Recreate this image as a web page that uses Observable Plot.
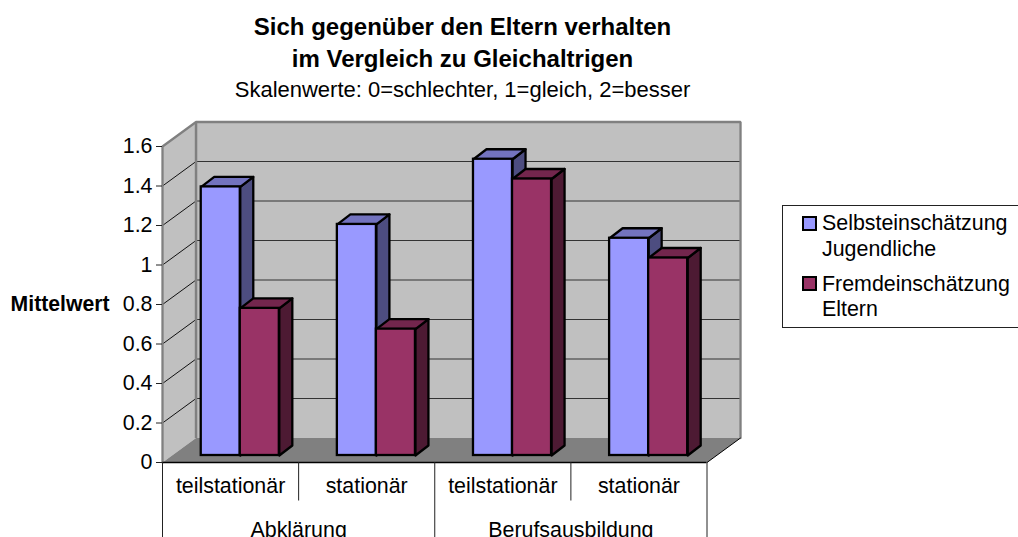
<!DOCTYPE html>
<html lang="de">
<head>
<meta charset="utf-8">
<script src="https://cdn.jsdelivr.net/npm/d3@7"></script>
<script src="https://cdn.jsdelivr.net/npm/@observablehq/plot@0.6"></script>
<style>
html,body{margin:0;padding:0;background:#fff;}
#page{position:relative;width:1018px;height:537px;overflow:hidden;font-family:"Liberation Sans",Arial,sans-serif;color:#000;}
#head{position:relative;height:100px;width:925px;text-align:center;}
#head div{position:absolute;left:0;width:100%;transform:translateY(-50%);white-space:nowrap;}
#head .t{font-weight:bold;font-size:24px;}
#head .s{font-size:22px;}
#legend{position:absolute;left:782px;top:205px;width:300px;height:123px;border:1px solid #222;box-sizing:border-box;background:#fff;}
#legend .sw{position:absolute;left:19px;width:15px;height:15px;box-sizing:border-box;border:2px solid #000;}
#legend .l{position:absolute;left:39px;font-size:21.4px;line-height:26px;white-space:nowrap;}
svg{display:block;}
</style>
</head>
<body>
<div id="page">
<div id="head"></div>
<div id="chart"></div>
<div id="legend"></div>
</div>
<script>
const titleLines = ["Sich gegenüber den Eltern verhalten", "im Vergleich zu Gleichaltrigen"];
const subtitle = "Skalenwerte: 0=schlechter, 1=gleich, 2=besser";
const yAxisLabel = "Mittelwert";
const yTicks = [0, 0.2, 0.4, 0.6, 0.8, 1, 1.2, 1.4, 1.6];
const categories = ["teilstationär", "stationär", "teilstationär", "stationär"];
const groups = ["Abklärung", "Berufsausbildung"];
const selbst = [1.36, 1.17, 1.50, 1.10];
const fremd = [0.745, 0.64, 1.40, 1.00];
const seriesNames = [["Selbsteinschätzung", "Jugendliche"], ["Fremdeinschätzung", "Eltern"]];

const palette = [
  {front: "#9999ff", top: "#7373bf", side: "#4d4d80"},
  {front: "#993366", top: "#73264d", side: "#4d1a33"}
];
const wall = "#c0c0c0", floorColor = "#808080", edge = "#808080";

// depth of the box and of each bar, in data units
const wdx = 33.5 / 136, wdy = 24.5 / 197.5;
const bdx = 13 / 136, bdy = 10 / 197.5;
const barW = 39 / 136, barStart = 38.7 / 136;

const bars = [];
categories.forEach((c, i) => {
  [selbst, fremd].forEach((s, k) => {
    const x1 = i + barStart + k * barW;
    bars.push({x1, x2: x1 + barW, v: s[i], k});
  });
});

const poly = (pts, fill, opts = {}) =>
  Plot.line(pts.map(([x, y]) => ({x, y})), {x: "x", y: "y", fill, stroke: "none", curve: "linear-closed", ...opts});

const barMarks = bars.flatMap(b => {
  const p = palette[b.k];
  const o = {stroke: "#000", strokeWidth: 2.3, dy: -7};
  return [
    poly([[b.x2, 0], [b.x2 + bdx, bdy], [b.x2 + bdx, b.v + bdy], [b.x2, b.v]], p.side, o),
    poly([[b.x1, b.v], [b.x1 + bdx, b.v + bdy], [b.x2 + bdx, b.v + bdy], [b.x2, b.v]], p.top, o),
    Plot.rect([b], {x1: "x1", x2: "x2", y1: () => 0, y2: "v", fill: p.front, ...o})
  ];
});

const gridVals = yTicks.filter(v => v > 0 && v < 1.6);
const topV = yTicks[yTicks.length - 1];

const chart = Plot.plot({
  width: 1018, height: 437,
  marginLeft: 162, marginRight: 311.5, marginTop: 46, marginBottom: 75,
  style: {fontFamily: "'Liberation Sans',Arial,sans-serif", fontSize: "21.4px", color: "#000", background: "#fff", overflow: "visible"},
  x: {domain: [0, 4], axis: null},
  y: {domain: [0, topV], label: null},
  marks: [
    // walls and floor
    poly([[wdx, wdy], [4 + wdx, wdy], [4 + wdx, topV + wdy], [wdx, topV + wdy]], wall),
    poly([[0, 0], [wdx, wdy], [wdx, topV + wdy], [0, topV]], wall),
    poly([[0, 0], [wdx, wdy], [4 + wdx, wdy], [4, 0]], floorColor),
    // grid
    Plot.link(gridVals, {x1: () => wdx, x2: () => 4 + wdx, y1: v => v + wdy, y2: v => v + wdy, stroke: "#333", strokeWidth: 1}),
    Plot.link(gridVals, {x1: () => 0, x2: () => wdx, y1: v => v, y2: v => v + wdy, stroke: "#111", strokeWidth: 1}),
    // wall outlines
    Plot.line([[0, 0], [0, topV], [wdx, topV + wdy], [4 + wdx, topV + wdy], [4 + wdx, wdy]].map(([x, y]) => ({x, y})), {x: "x", y: "y", stroke: edge, strokeWidth: 2.3, strokeLinejoin: "miter"}),
    Plot.link([0], {x1: () => wdx, x2: () => wdx, y1: () => wdy, y2: () => topV + wdy, stroke: edge, strokeWidth: 2.5}),
    ...barMarks,
    // base
    Plot.link([0], {x1: () => 4, x2: () => 4 + wdx, y1: () => 0, y2: () => wdy, stroke: "#000", strokeWidth: 1}),
    Plot.ruleY([0], {x1: 0, x2: 4, stroke: "#000", strokeWidth: 1.3}),
    Plot.axisY({ticks: yTicks, tickSize: 6, tickPadding: 4, tickFormat: d => String(d), fontSize: 21.4, stroke: "#222", label: null}),
    // category axis
    Plot.ruleX([1, 3], {y1: 0, y2: -0.195, stroke: "#222", strokeWidth: 1}),
    Plot.ruleX([0, 2, 4], {y1: 0, y2: -0.38, stroke: "#222", strokeWidth: 1}),
    Plot.text(categories, {x: (d, i) => i + 0.5, y: () => 0, dy: 24, text: d => d, fill: "#000", fontSize: 21.4}),
    Plot.text(groups, {x: (d, i) => 2 * i + 1, y: () => 0, dy: 68, text: d => d, fill: "#000", fontSize: 21.4}),
    Plot.text([yAxisLabel], {x: () => 0, y: () => 0.8, dx: -53, text: d => d, textAnchor: "end", fontWeight: "bold", fill: "#000", fontSize: 21.2})
  ]
});
document.getElementById("chart").append(chart);

const head = document.getElementById("head");
[[titleLines[0], 27, "t"], [titleLines[1], 59, "t"], [subtitle, 90, "s"]].forEach(([txt, y, c]) => {
  const d = document.createElement("div");
  d.className = c; d.textContent = txt; d.style.top = y + "px";
  head.append(d);
});

const legend = document.getElementById("legend");
const swatchTops = [10, 70];
const lineTops = [[4, 30], [65, 90]];
seriesNames.forEach((lines, k) => {
  const s = document.createElement("div");
  s.className = "sw"; s.style.top = swatchTops[k] + "px"; s.style.background = palette[k].front;
  legend.append(s);
  lines.forEach((t, j) => {
    const l = document.createElement("div");
    l.className = "l"; l.textContent = t; l.style.top = lineTops[k][j] + "px";
    legend.append(l);
  });
});
</script>
</body>
</html>
